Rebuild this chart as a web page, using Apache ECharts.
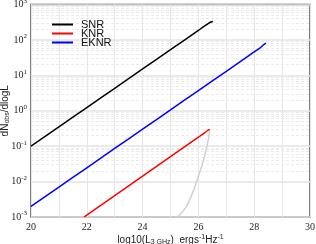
<!DOCTYPE html>
<html><head><meta charset="utf-8">
<script src="https://cdn.jsdelivr.net/npm/echarts@6/dist/echarts.min.js"></script>
<style>html,body{margin:0;padding:0;background:#fff}#c{width:316px;height:244px}</style>
</head><body><div id="c"></div>
<script>
// log10(L) values and log10(dN/dlogL) values
var snrX = [20, 21, 22, 23, 24, 25, 26, 26.2, 26.35, 26.45, 26.52];
var snrY = [-1, -0.455, 0.09, 0.635, 1.18, 1.725, 2.27, 2.38, 2.46, 2.505, 2.52];
var knrX = [21.9, 22, 23, 24, 25, 26, 26.2, 26.32, 26.38, 26.4];
var knrY = [-3, -2.945, -2.395, -1.845, -1.295, -0.745, -0.64, -0.565, -0.535, -0.55];
var eknrX = [20, 21, 22, 23, 24, 25, 26, 27, 28, 28.2, 28.35, 28.42];
var eknrY = [-2.7, -2.155, -1.61, -1.065, -0.52, 0.025, 0.57, 1.115, 1.66, 1.77, 1.87, 1.91];
var grayX = [26.4, 26.39, 26.36, 26.3, 26.22, 26.12, 26.0, 25.88, 25.74, 25.58, 25.43, 25.27, 25.2];
var grayY = [-0.55, -0.62, -0.8, -1.01, -1.29, -1.57, -1.85, -2.13, -2.42, -2.7, -2.85, -2.99, -3.06];
var xTicks = [20, 22, 24, 26, 28, 30];
var yExp = [-3, -2, -1, 0, 1, 2, 3];

function pts(xs, ys){ return xs.map(function(x,i){ return [x, Math.pow(10, ys[i])]; }); }

var minorLines = [];
yExp.forEach(function(e){ if (e < 3) for (var k=2;k<=9;k++) minorLines.push({yAxis: k*Math.pow(10,e)}); });

var chart = echarts.init(document.getElementById('c'), null, {renderer:'canvas'});
var serif = 'Liberation Serif';
var sans = 'Liberation Sans';
chart.setOption({
  animation: false,
  backgroundColor: '#fff',
  grid: {left: 31, right: 6, top: 4.5, bottom: 27, containLabel: false, outerBoundsMode: 'none',
         show: true, borderColor: '#555', borderWidth: 1.5, backgroundColor: 'transparent'},
  legend: {
    data: ['SNR','KNR','EKNR'], orient: 'vertical', left: 47, top: 14, z: 10,
    icon: 'rect', itemWidth: 21, itemHeight: 2, itemGap: -2,
    textStyle: {fontFamily: sans, fontSize: 11, color: '#111', padding:[0,0,0,3]}
  },
  xAxis: {
    type: 'value', min: 20, max: 30, interval: 1,
    name: 'log10(L{sub|3 GHz})  ergs{sup|-1}Hz{sup|-1}', nameLocation: 'middle', nameGap: 17, nameMoveOverlap: false,
    nameTextStyle: {fontFamily: sans, fontSize: 10, color: '#222',
      rich: {sub: {fontSize: 7, fontFamily: sans, padding:[4,0,0,0]}, sup: {fontSize: 7, fontFamily: sans, padding:[0,0,5,0]}}},
    axisLine: {show: false}, axisTick: {show: false},
    axisLabel: {fontFamily: serif, fontSize: 10, color: '#222', margin: 5,
      formatter: function(v){ return xTicks.indexOf(v) >= 0 ? String(v) : ''; }},
    splitLine: {show: true, lineStyle: {color: '#e6e6e6', width: 1}}
  },
  yAxis: {
    type: 'log', logBase: 10, min: 1e-3, max: 1e3,
    name: 'dN{sub|obs}/dlogL', nameLocation: 'middle', nameGap: 20, nameRotate: 90, nameMoveOverlap: false,
    nameTextStyle: {fontFamily: sans, fontSize: 10, color: '#222',
      rich: {sub: {fontSize: 7, fontFamily: sans, padding:[4,0,0,0]}}},
    axisLine: {show: false}, axisTick: {show: false},
    axisLabel: {fontFamily: serif, fontSize: 10, color: '#222', margin: 4,
      formatter: function(v){ var e = Math.round(Math.log10(v)); return '{b|10}{e|' + e + '}'; },
      rich: {b: {fontFamily: serif, fontSize: 10, color: '#222'}, e: {fontFamily: serif, fontSize: 7, color: '#222', padding:[0,0,7,0]}}},
    splitLine: {show: true, lineStyle: {color: '#e3e3e3', width: 1.5}}
  },
  series: [
    {name: 'minor', type: 'line', data: [], silent: true, z: 0,
     markLine: {silent: true, z: 0, symbol: 'none', label: {show: false},
       lineStyle: {color: '#ebebeb', type: [3,2], width: 1}, data: minorLines}},
    {name: 'gray', type: 'line', z: 3, data: pts(grayX, grayY), showSymbol: false, smooth: false, lineStyle: {color: '#d0d0d0', width: 1.5}, itemStyle:{color:'#d0d0d0'}},
    {name: 'SNR', type: 'line', z: 4, data: pts(snrX, snrY), showSymbol: false, smooth: true, lineStyle: {color: '#000', width: 1.5}, itemStyle:{color:'#000'}},
    {name: 'KNR', type: 'line', z: 4, data: pts(knrX, knrY), showSymbol: false, smooth: true, lineStyle: {color: '#ff0000', width: 1.5}, itemStyle:{color:'#ff0000'}},
    {name: 'EKNR', type: 'line', z: 4, data: pts(eknrX, eknrY), showSymbol: false, smooth: true, lineStyle: {color: '#0000ff', width: 1.5}, itemStyle:{color:'#0000ff'}}
  ]
});
</script></body></html>
